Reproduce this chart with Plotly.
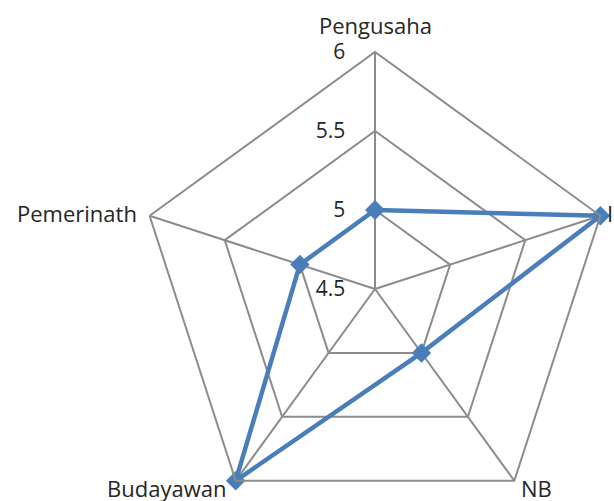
import plotly.graph_objects as go

categories = ["Pengusaha", "Intelektual", "NB", "Budayawan", "Pemerinath"]
values = [5, 6, 5, 6, 5]
radial_ticks = [4.5, 5, 5.5, 6]
radial_ticktext = ["4.5", "5", "5.5", "6"]

W, H = 614, 526
cx, cy, R = 375, 289, 237

# category label placement (pixel anchors relative to the figure)
label_pos = [
    (375, 25, "center"),
    (605, 213, "left"),
    (519, 488, "left"),
    (228, 488, "right"),
    (139, 213, "right"),
]

fig = go.Figure()
fig.add_trace(go.Scatterpolar(
    r=values + values[:1],
    theta=categories + categories[:1],
    mode="lines+markers",
    line=dict(color="#4A7EBB", width=4.5),
    marker=dict(symbol="diamond", size=15, color="#4A7EBB"),
    showlegend=False,
))

tick_font = dict(family="Open Sans, Liberation Sans, sans-serif", size=21, color="#262626")
label_font = dict(family="Open Sans, Liberation Sans, sans-serif", size=22, color="#262626")

annotations = []
for name, (px, py, anchor) in zip(categories, label_pos):
    annotations.append(dict(
        text=name, x=px / W, y=(H - py) / H, xref="paper", yref="paper",
        xanchor=anchor, yanchor="middle", showarrow=False, font=label_font,
    ))

fig.update_layout(
    width=W, height=H,
    margin=dict(l=0, r=0, t=0, b=0),
    paper_bgcolor="white",
    plot_bgcolor="white",
    font=tick_font,
    annotations=annotations,
    polar=dict(
        domain=dict(x=[(cx - R) / W, (cx + R) / W], y=[0, (H - (cy - R)) / H]),
        bgcolor="white",
        gridshape="linear",
        angularaxis=dict(
            direction="clockwise", rotation=90,
            showline=True, linecolor="#8C8C8C", linewidth=2,
            gridcolor="#8C8C8C", gridwidth=2,
            ticks="", showticklabels=False,
        ),
        radialaxis=dict(
            range=[4.5, 6], angle=90, tickangle=90,
            tickvals=radial_ticks, ticktext=radial_ticktext,
            showline=False, gridcolor="#8C8C8C", gridwidth=2,
            ticks="outside", ticklen=22, tickcolor="rgba(0,0,0,0)",
            side="counterclockwise", tickfont=tick_font,
        ),
    ),
)

fig.write_html("out.html")
